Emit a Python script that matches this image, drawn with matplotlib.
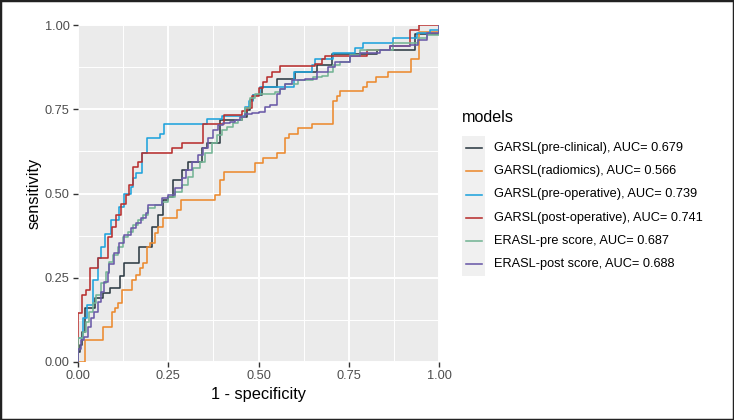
import matplotlib.pyplot as plt
from matplotlib.lines import Line2D
from matplotlib.patches import Rectangle

plt.rcParams['font.family'] = ['Liberation Sans', 'DejaVu Sans']

models = ['GARSL(pre-clinical)', 'GARSL(radiomics)', 'GARSL(pre-operative)',
          'GARSL(post-operative)', 'ERASL-pre score', 'ERASL-post score']
auc = [0.679, 0.566, 0.739, 0.741, 0.687, 0.688]
colors = ['#2d3b44', '#eb8a2e', '#1fa3dc', '#b8302f', '#74b595', '#6a5aa8']

# ROC points: at each fpr the curve steps up to the tpr value
pre_clinical_fpr = [0, 0, 0.006, 0.012, 0.02, 0.047, 0.07, 0.09, 0.115, 0.128, 0.168, 0.205,
                    0.222, 0.236, 0.25, 0.264, 0.287, 0.306, 0.343, 0.356, 0.392, 0.453,
                    0.467, 0.476, 0.486, 0.509, 0.55, 0.60, 0.661, 0.703, 0.827, 0.934, 1.0]
pre_clinical_tpr = [0, 0.03, 0.05, 0.09, 0.16, 0.19, 0.205, 0.22, 0.255, 0.295, 0.342, 0.40,
                    0.436, 0.48, 0.49, 0.54, 0.57, 0.594, 0.634, 0.649, 0.718, 0.728,
                    0.748, 0.777, 0.792, 0.817, 0.84, 0.86, 0.88, 0.915, 0.927, 0.973, 1.0]

radiomics_fpr = [0, 0.019, 0.07, 0.093, 0.102, 0.112, 0.121, 0.149, 0.162, 0.172, 0.181, 0.19,
                 0.199, 0.213, 0.222, 0.236, 0.273, 0.285, 0.38, 0.393, 0.405, 0.49, 0.513,
                 0.55, 0.573, 0.585, 0.61, 0.647, 0.705, 0.717, 0.726, 0.789, 0.80, 0.825,
                 0.86, 0.922, 0.945, 1.0]
radiomics_tpr = [0, 0.065, 0.105, 0.149, 0.159, 0.174, 0.214, 0.243, 0.258, 0.28, 0.293, 0.34,
                 0.352, 0.382, 0.401, 0.426, 0.451, 0.48, 0.496, 0.54, 0.564, 0.591, 0.606,
                 0.621, 0.664, 0.677, 0.693, 0.705, 0.775, 0.789, 0.805, 0.817, 0.832, 0.847,
                 0.861, 0.90, 0.98, 1.0]

pre_operative_fpr = [0, 0, 0.015, 0.025, 0.042, 0.056, 0.065, 0.075, 0.091, 0.114, 0.128, 0.147,
                     0.153, 0.162, 0.176, 0.19, 0.227, 0.239, 0.358, 0.40, 0.463, 0.475, 0.486,
                     0.504, 0.597, 0.647, 0.657, 0.707, 0.767, 0.79, 0.873, 0.938, 0.975, 1.0]
pre_operative_tpr = [0, 0.07, 0.13, 0.17, 0.243, 0.31, 0.34, 0.38, 0.42, 0.46, 0.50, 0.52,
                     0.546, 0.562, 0.619, 0.664, 0.678, 0.705, 0.72, 0.73, 0.757, 0.775, 0.792,
                     0.817, 0.861, 0.88, 0.90, 0.916, 0.931, 0.946, 0.96, 0.975, 0.985, 1.0]

post_operative_fpr = [0, 0, 0.011, 0.022, 0.032, 0.055, 0.082, 0.094, 0.105, 0.119, 0.133, 0.141,
                      0.153, 0.167, 0.176, 0.26, 0.287, 0.345, 0.404, 0.453, 0.467, 0.481,
                      0.502, 0.512, 0.523, 0.537, 0.559, 0.656, 0.675, 0.684, 0.80, 0.864,
                      0.92, 0.945, 1.0]
post_operative_tpr = [0, 0.145, 0.20, 0.215, 0.278, 0.31, 0.37, 0.40, 0.436, 0.47, 0.495, 0.525,
                      0.58, 0.593, 0.619, 0.636, 0.649, 0.705, 0.733, 0.745, 0.753, 0.789,
                      0.814, 0.832, 0.846, 0.861, 0.877, 0.885, 0.90, 0.907, 0.927, 0.937,
                      0.986, 1.0, 1.0]

erasl_pre_fpr = [0, 0, 0.013, 0.022, 0.031, 0.041, 0.05, 0.064, 0.078, 0.087, 0.096, 0.11,
                 0.124, 0.138, 0.151, 0.165, 0.179, 0.195, 0.213, 0.232, 0.25, 0.269, 0.287,
                 0.306, 0.319, 0.338, 0.352, 0.37, 0.384, 0.398, 0.412, 0.43, 0.444, 0.453,
                 0.463, 0.476, 0.49, 0.546, 0.56, 0.573, 0.61, 0.652, 0.675, 0.693, 0.707,
                 0.726, 0.753, 0.781, 0.873, 0.943, 0.966, 1.0]
erasl_pre_tpr = [0, 0.07, 0.09, 0.12, 0.149, 0.174, 0.199, 0.233, 0.268, 0.298, 0.318, 0.342,
                 0.372, 0.387, 0.407, 0.421, 0.436, 0.456, 0.466, 0.476, 0.49, 0.505, 0.525,
                 0.55, 0.575, 0.594, 0.619, 0.649, 0.674, 0.688, 0.698, 0.708, 0.718, 0.728,
                 0.753, 0.782, 0.796, 0.801, 0.811, 0.826, 0.836, 0.846, 0.85, 0.861, 0.88,
                 0.89, 0.912, 0.927, 0.947, 0.961, 0.971, 1.0]

erasl_post_fpr = [0, 0, 0.008, 0.017, 0.027, 0.036, 0.045, 0.055, 0.064, 0.073, 0.082, 0.087,
                  0.10, 0.114, 0.128, 0.147, 0.161, 0.175, 0.188, 0.195, 0.232, 0.25, 0.269,
                  0.287, 0.30, 0.315, 0.333, 0.347, 0.361, 0.375, 0.389, 0.402, 0.421, 0.435,
                  0.449, 0.463, 0.481, 0.50, 0.518, 0.532, 0.55, 0.56, 0.573, 0.592, 0.629,
                  0.661, 0.693, 0.712, 0.753, 0.781, 0.837, 0.864, 0.92, 0.943, 0.966, 1.0]
erasl_post_tpr = [0, 0.04, 0.065, 0.075, 0.105, 0.13, 0.149, 0.179, 0.209, 0.238, 0.263, 0.29,
                  0.322, 0.352, 0.377, 0.397, 0.411, 0.426, 0.441, 0.466, 0.486, 0.496, 0.515,
                  0.545, 0.57, 0.594, 0.614, 0.634, 0.664, 0.688, 0.703, 0.708, 0.713, 0.718,
                  0.728, 0.735, 0.738, 0.743, 0.757, 0.762, 0.796, 0.811, 0.826, 0.836, 0.841,
                  0.861, 0.875, 0.89, 0.907, 0.917, 0.927, 0.937, 0.942, 0.956, 0.976, 1.0]

curves = [(pre_clinical_fpr, pre_clinical_tpr), (radiomics_fpr, radiomics_tpr),
          (pre_operative_fpr, pre_operative_tpr), (post_operative_fpr, post_operative_tpr),
          (erasl_pre_fpr, erasl_pre_tpr), (erasl_post_fpr, erasl_post_tpr)]

ticks = [0, 0.25, 0.5, 0.75, 1.0]
tick_labels = ['0.00', '0.25', '0.50', '0.75', '1.00']

W, H = 734, 420
fig = plt.figure(figsize=(W / 100, H / 100), dpi=100)
ax = fig.add_axes([78 / W, 1 - 362 / H, 361 / W, 337 / H])
ax.set_facecolor('#ebebeb')

for (fpr, tpr), c in zip(curves, colors):
    ax.step(fpr, tpr, where='post', color=c, lw=1.15, zorder=3)

ax.set_xlim(0, 1)
ax.set_ylim(0, 1)
ax.set_xticks(ticks)
ax.set_xticklabels(tick_labels)
ax.set_yticks(ticks)
ax.set_yticklabels(tick_labels)
ax.set_xticks([0.125, 0.375, 0.625, 0.875], minor=True)
ax.set_yticks([0.125, 0.375, 0.625, 0.875], minor=True)
ax.grid(which='major', color='white', lw=1.4, zorder=1)
ax.grid(which='minor', color='white', lw=0.7, zorder=1)
ax.set_axisbelow(True)
for s in ax.spines.values():
    s.set_visible(False)
ax.tick_params(which='major', length=3.5, width=1.0, color='#333333',
               labelsize=9.2, labelcolor='#4d4d4d', pad=2.5)
ax.tick_params(which='minor', length=0)
ax.set_xlabel('1 - specificity', fontsize=11.8, labelpad=3)
ax.set_ylabel('sensitivity', fontsize=11.8, labelpad=2)

# legend drawn by hand, ggplot style
fig.text(462 / W, 1 - 118 / H, 'models', fontsize=11.6, va='center', ha='left')
row = 23.2
top = 136.5
fig.add_artist(Rectangle((462 / W, 1 - (top + row * len(models)) / H), 23 / W,
                         row * len(models) / H, transform=fig.transFigure,
                         facecolor='#f0f0f0', edgecolor='none'))
for i, (m, a, c) in enumerate(zip(models, auc, colors)):
    yc = 1 - (top + row * (i + 0.5)) / H
    fig.add_artist(Line2D([466 / W, 482 / W], [yc, yc], color=c, lw=1.15,
                          transform=fig.transFigure))
    fig.text(494 / W, yc, f'{m}, AUC= {a:.3f}', fontsize=9.2, va='center', ha='left')

fig.add_artist(Rectangle((0, 0), 1, 1, transform=fig.transFigure, fill=False,
                         edgecolor='#222222', lw=2.5))

fig.savefig('out.png', dpi=100)
